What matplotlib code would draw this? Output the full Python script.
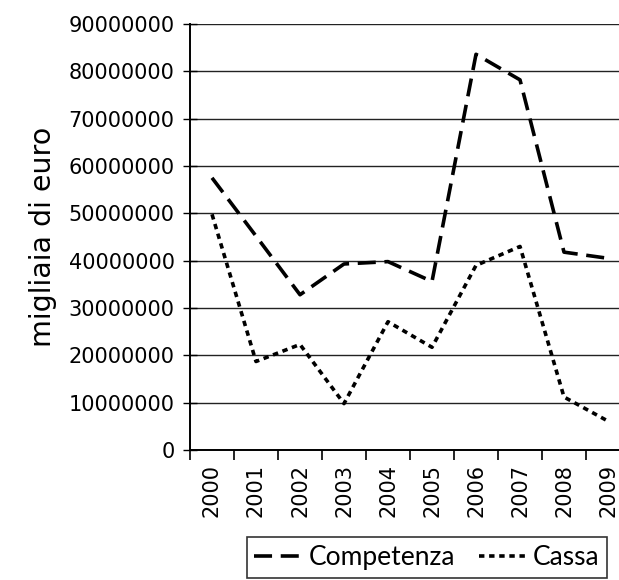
import matplotlib
matplotlib.use("Agg")
import matplotlib.pyplot as plt
import numpy as np

years = ["2000", "2001", "2002", "2003", "2004", "2005", "2006", "2007", "2008", "2009"]
competenza = [57.5e6, 45.2e6, 32.8e6, 39.3e6, 39.8e6, 35.6e6, 83.6e6, 78.2e6, 41.8e6, 40.5e6]
cassa = [49.8e6, 18.7e6, 22.3e6, 9.8e6, 27.1e6, 21.7e6, 39.0e6, 43.0e6, 11.2e6, 6.1e6]
yticks = list(range(0, 90000001, 10000000))

fig = plt.figure(figsize=(6.19, 5.80), dpi=100)
ax = fig.add_axes([190 / 619, 1 - 450 / 580, 440 / 619, 426 / 580])

x = np.arange(len(years))
ax.plot(x, competenza, color="black", lw=2.6, dashes=[5.0, 2.4], label="Competenza")
ax.plot(x, cassa, color="black", lw=2.6, dashes=[1.5, 1.3], label="Cassa")

ax.set_xlim(-0.5, 9.5)
ax.set_ylim(0, 90000000)
ax.set_yticks(yticks)
ax.set_yticklabels([str(v) for v in yticks], fontsize=15, fontweight="medium")
ax.yaxis.grid(True, color="#222222", lw=1.0)
ax.set_axisbelow(True)

ax.set_xticks(x)
ax.set_xticklabels(years, rotation=90, fontsize=15, fontweight="medium")
ax.set_xticks(np.arange(-0.5, 10, 1), minor=True)
ax.tick_params(axis="x", which="major", length=0, pad=10)
ax.tick_params(axis="x", which="minor", length=7, width=1.2, direction="out")
ax.tick_params(axis="y", length=10, width=1.0, direction="inout", pad=6)

for s in ["top", "right"]:
    ax.spines[s].set_visible(False)
ax.spines["left"].set_linewidth(1.4)
ax.spines["bottom"].set_linewidth(1.4)

ax.set_ylabel("migliaia di euro", fontsize=20.5, labelpad=8)

# legend box sits under the year labels, partly cut by the bottom edge
leg = fig.legend(loc="upper center", bbox_to_anchor=(427 / 619, 1 - 537 / 580), ncol=2,
                 frameon=True, fancybox=False, handlelength=1.8, borderaxespad=0,
                 columnspacing=0.9, handletextpad=0.25, borderpad=0.3,
                 prop={"family": "Lato", "size": 19})
leg.get_frame().set_edgecolor("black")
leg.get_frame().set_linewidth(1.2)

fig.savefig("out.png", dpi=100)
